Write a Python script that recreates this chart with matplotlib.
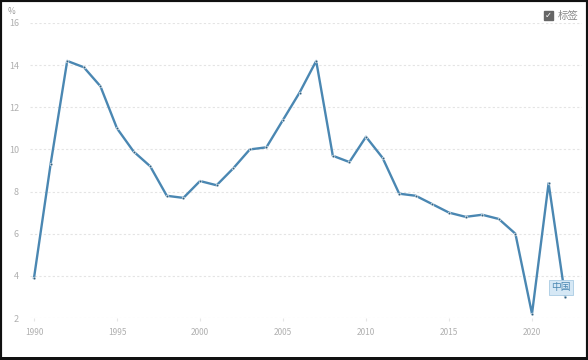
import numpy as np
import matplotlib.pyplot as plt
from matplotlib.patches import Rectangle

plt.rcParams['font.family'] = ['Noto Sans CJK SC', 'DejaVu Sans']

# --- DATA ---
years = list(range(1990, 2023))
growth = [3.9, 9.3, 14.2, 13.9, 13.0, 11.0, 9.9, 9.2, 7.8, 7.7,
          8.5, 8.3, 9.1, 10.0, 10.1, 11.4, 12.7, 14.2, 9.7, 9.4,
          10.6, 9.6, 7.9, 7.8, 7.4, 7.0, 6.8, 6.9, 6.7, 6.0,
          2.2, 8.4, 3.0]
x_ticks = [1990, 1995, 2000, 2005, 2010, 2015, 2020]
y_ticks = [2, 4, 6, 8, 10, 12, 14, 16]
series_name = '中国'
legend_text = '标签'

# --- PLOT ---
W, H = 588, 360
fig = plt.figure(figsize=(W / 100, H / 100), dpi=100)
ax = fig.add_axes([30 / W, 42 / H, 552 / W, 295 / H])

line_color = '#4a87b2'
ax.plot(years, growth, color=line_color, lw=1.7, zorder=3)
ax.scatter(years, growth, s=4, color='#2f5f80', edgecolors='white',
           linewidths=0.4, zorder=4)

px_year = (532 - 34) / 30
ax.set_xlim(1990 - 4 / px_year, 1990 + (582 - 34) / px_year)
ax.set_ylim(2, 16)

ax.set_xticks(x_ticks)
ax.set_yticks(y_ticks)
ax.tick_params(axis='x', colors='#e6e6e6', length=2, width=0.8, pad=5,
               labelcolor='#b0b0b0', labelsize=6)
ax.tick_params(axis='y', length=0, pad=8, labelcolor='#b0b0b0', labelsize=6.5)
ax.grid(axis='y', color='#e4e4e4', linestyle=(0, (2, 2)), lw=0.8)
for s in ax.spines.values():
    s.set_visible(False)

fig.text(8 / W, 1 - 11 / H, '%', fontsize=6, color='#999999',
         ha='left', va='center')

# label for last point
ax.text(2021.75, 3.45, series_name, fontsize=7, color='#4a87b2',
        ha='center', va='center', zorder=5,
        bbox=dict(boxstyle='square,pad=0.25', fc='#d6e8f5', ec='#a9cbe3', lw=0.6))

# checkbox legend
fig.patches.append(Rectangle((544 / W, 1 - 20 / H), 9 / W, 9 / H,
                             transform=fig.transFigure, fc='#666666', ec='#666666'))
fig.text(548.5 / W, 1 - 15.5 / H, '✓', fontsize=6, color='white',
         ha='center', va='center', family=['DejaVu Sans'])
fig.text(558 / W, 1 - 15.5 / H, legend_text, fontsize=7.5, color='#888888',
         ha='left', va='center')

# screenshot frame
fig.patches.append(Rectangle((0, 0), 1, 1, transform=fig.transFigure,
                             fill=False, ec='#111111', lw=3))
fig.patches.append(Rectangle((0, 0), 1, 3 / H, transform=fig.transFigure,
                             fc='#111111', ec='none'))

fig.savefig('out.png', dpi=100)
